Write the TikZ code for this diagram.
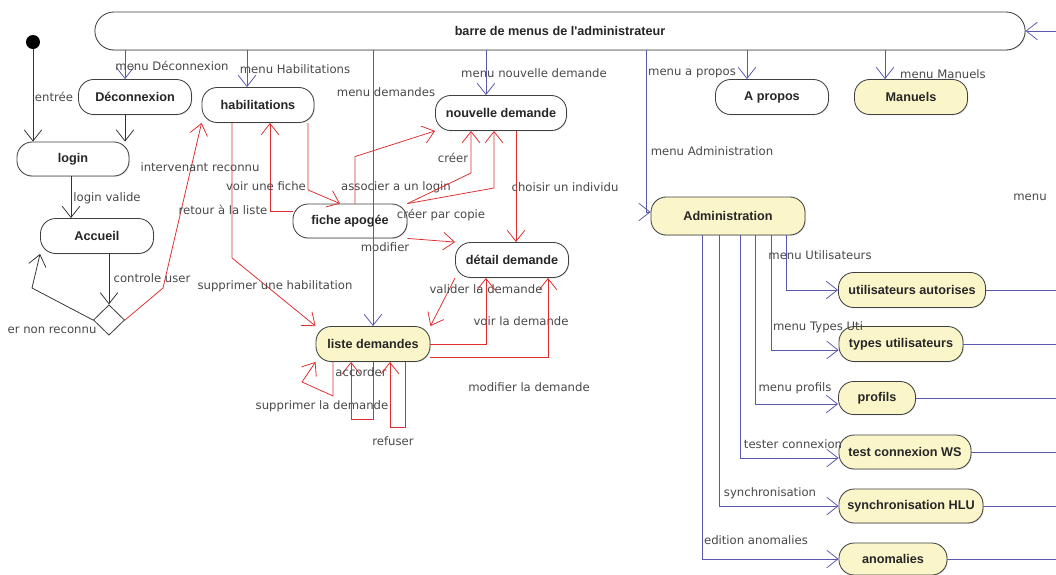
\documentclass[tikz,border=0pt]{standalone}
\usepackage{fontspec}
\setmainfont{DejaVu Sans}
\newfontfamily\boxfont{Liberation Sans}
\usepackage{xcolor}
\definecolor{umlblue}{RGB}{88,88,178}
\definecolor{umlred}{RGB}{222,45,45}
\definecolor{umlyellow}{RGB}{251,246,202}
\definecolor{umlgray}{RGB}{64,64,64}
\definecolor{umltext}{RGB}{72,72,72}
\usepackage{tikz}
\usetikzlibrary{arrows.meta,positioning,shapes.geometric,shadows}

\begin{document}
\begin{tikzpicture}[x=0.025cm, y=-0.025cm, every node/.style={font=\fontsize{8.3}{10}\selectfont, text=umltext},
  st/.style={draw=umlgray, line width=0.6pt, rounded corners=0.38cm, minimum height=0.875cm, inner sep=0pt, fill=white,
    drop shadow={opacity=0.25, shadow xshift=0.6pt, shadow yshift=-0.6pt},
    font=\boxfont\fontsize{9}{11}\selectfont\bfseries, text=black!85},
  hl/.style={st, fill=umlyellow},
  bl/.style={draw=umlblue, line width=0.55pt, -{Straight Barb[length=2.8mm,width=4.4mm]}},
  rd/.style={draw=umlred, line width=0.55pt, -{Straight Barb[length=2.8mm,width=4.4mm]}},
  bk/.style={draw=black!80, line width=0.55pt, -{Straight Barb[length=2.8mm,width=4.4mm]}}]
\useasboundingbox (0,0) rectangle (1056,574);
\node[st, minimum width=23.25cm, minimum height=0.95cm, rounded corners=0.475cm] (bar) at (560,31) {barre de menus de l'administrateur};
\node[circle, fill=black, inner sep=0pt, minimum size=0.35cm] (dot) at (33,42) {};
\node[st, minimum width=2.825cm] (deco) at (135,97) {Déconnexion};
\node[st, minimum width=2.8cm, minimum height=0.85cm] (login) at (73,159) {login};
\node[st, minimum width=2.825cm] (accueil) at (97,236) {Accueil};
\node[diamond, draw=umlgray, line width=0.6pt, fill=white, inner sep=0pt, minimum width=0.78cm, minimum height=0.76cm] (ctrl) at (109,320) {};
\node[st, minimum width=2.8cm] (habil) at (258,105) {habilitations};
\node[st, minimum width=2.85cm, minimum height=0.85cm] (fiche) at (350,221) {fiche apogée};
\node[st, minimum width=3.275cm] (nouv) at (501,113) {nouvelle demande};
\node[st, minimum width=2.825cm] (detail) at (512,260) {détail demande};
\node[hl, minimum width=2.85cm] (liste) at (373,344) {liste demandes};
\node[st, minimum width=2.825cm] (apropos) at (772,97) {A propos};
\node[hl, minimum width=2.825cm] (manuels) at (911,97) {Manuels};
\node[hl, minimum width=3.85cm, minimum height=0.95cm] (admin) at (728,216) {Administration};
\node[hl, minimum width=3.675cm] (util) at (912,290) {utilisateurs autorises};
\node[hl, minimum width=3.1cm] (types) at (901,344) {types utilisateurs};
\node[hl, minimum width=1.925cm, minimum height=0.825cm] (profils) at (877,398) {profils};
\node[hl, minimum width=3.3cm, minimum height=0.85cm] (test) at (905,452) {test connexion WS};
\node[hl, minimum width=3.6cm, minimum height=0.85cm] (sync) at (911,506) {synchronisation HLU};
\node[hl, minimum width=2.7cm, minimum height=0.8cm] (anom) at (893,559) {anomalies};
\coordinate (rim) at (1056,31);

\draw[bk] (dot) -- (dot |- login.north) node at (54,97) {entrée};
\draw[bk] ([xshift=-0.25cm]deco.south) -- ([xshift=-0.25cm]deco.south |- login.north);
\draw[bk] ([xshift=-0.05cm]login.south) -- ([xshift=-0.05cm]login.south |- accueil.north) node at (107,198) {login valide};
\draw[bk] (accueil.south -| ctrl.north) -- (ctrl.north) node at (152,278) {controle user};
\draw[bk] (ctrl.west) -- (32,288) -- (accueil.south west) node at (52,330) {er non reconnu};

\draw[rd] (ctrl.east) -- (163,288) -- (habil.south west) node at (200,167) {intervenant reconnu};
\draw[rd] ([xshift=-0.65cm]habil.south) -- ++(0,135) -- (liste.north west) node at (275,286) {supprimer une habilitation};
\draw[rd] ([yshift=0.25cm]fiche.west) -| ([xshift=0.3cm]habil.south) node at (223,210) {retour à la liste};
\draw[rd] ([xshift=1.25cm]habil.south) -- ++(0,67) -- ([xshift=-0.25cm]fiche.north) node at (266,186) {voir une fiche};
\draw[rd] ([xshift=0.125cm]fiche.north) -- ++(0,-47) -- (nouv.south west) node at (396,187) {associer a un login};
\draw[rd] (fiche.north east) -- (471,173) -- ([xshift=-0.75cm]nouv.south) node at (453,158) {créer};
\draw[rd] (fiche.north east) -- (494,188) -- ([xshift=-0.175cm]nouv.south) node at (441,215) {créer par copie};
\draw[rd] ([xshift=0.375cm]nouv.south) -- ([xshift=0.375cm]nouv.south |- detail.north) node at (565,187) {choisir un individu};
\draw[rd] (fiche.south east) -- (detail.north west) node at (385,247) {modifier};
\draw[rd] (detail.south west) -- (liste.north east) node at (486,289) {valider la demande};
\draw[rd] (liste.east) -| ([xshift=-0.65cm]detail.south) node at (521,321) {voir la demande};
\draw[rd] ([yshift=-0.325cm]liste.east) -| ([xshift=0.9cm]detail.south) node at (529,387) {modifier la demande};
\draw[rd] ([xshift=-1cm]liste.south) -- ++(0,34) -- (302,382) -- (liste.south west) node at (322,406) {supprimer la demande};
\draw[rd] ([xshift=0.02cm]liste.south) -- ++(0,57) -| ([xshift=-0.55cm]liste.south) node at (361,372) {accorder};
\draw[rd] ([xshift=0.8cm]liste.south) -- ++(0,65) -| ([xshift=0.425cm]liste.south) node at (393,441) {refuser};

\draw[bl] ([xshift=-0.25cm]deco.north |- bar.south) -- ([xshift=-0.25cm]deco.north) node at (172,66) {menu Déconnexion};
\draw[bl] ([xshift=-0.275cm]habil.north |- bar.south) -- ([xshift=-0.275cm]habil.north) node at (295,69) {menu Habilitations};
\draw[bl] (liste.north |- bar.south) -- (liste.north) node at (386,92) {menu demandes};
\draw[bl] ([xshift=-0.375cm]nouv.north |- bar.south) -- ([xshift=-0.375cm]nouv.north) node at (534,73) {menu nouvelle demande};
\draw[bl] ([xshift=-0.625cm]apropos.north |- bar.south) -- ([xshift=-0.625cm]apropos.north) node at (692,73) {menu a propos};
\draw[bl] ([xshift=-0.65cm]manuels.north |- bar.south) -- ([xshift=-0.65cm]manuels.north) node at (943,74) {menu Manuels};
\draw[bl] ([xshift=-0.1cm]admin.west |- bar.south) |- ([yshift=0.1cm]admin.west) node at (712,151) {menu Administration};
\draw[bl] ([xshift=1.45cm]admin.south) |- (util.west) node at (820,255) {menu Utilisateurs};
\draw[bl] ([xshift=1.075cm]admin.south) |- ([yshift=-0.15cm]types.west) node at (818,327) {menu Types Uti};
\draw[bl] ([xshift=0.675cm]admin.south) |- ([yshift=-0.15cm]profils.west) node at (795,388) {menu profils};
\draw[bl] ([xshift=0.3cm]admin.south) |- ([yshift=-0.15cm]test.west) node at (793,444) {tester connexion};
\draw[bl] ([xshift=-0.225cm]admin.south) |- (sync.west) node at (770,493) {synchronisation};
\draw[bl] ([xshift=-0.65cm]admin.south) |- (anom.west) node at (756,540) {edition anomalies};
\foreach \n in {util,types,profils,test,sync,anom}
  \draw[umlblue, line width=0.55pt] (\n.east) -- (\n.east -| rim);
\draw[bl] (rim) -- (bar.east);
\node (menuout) at (1030,197) {menu};
\end{tikzpicture}
\end{document}
